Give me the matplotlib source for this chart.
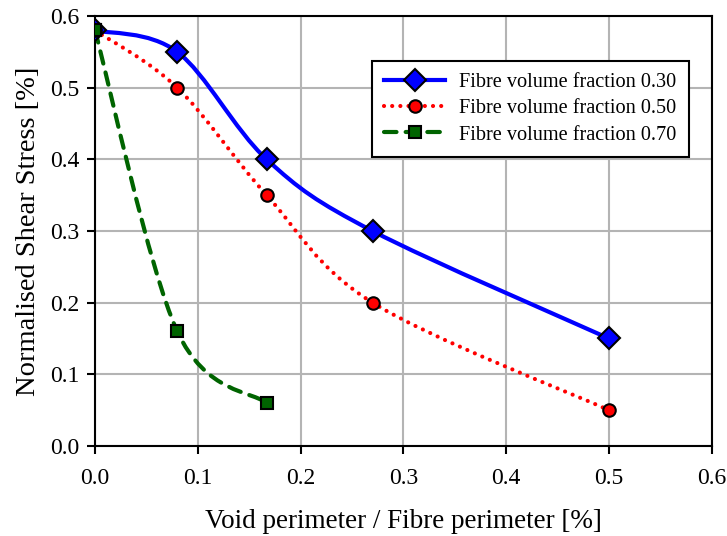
import numpy as np
import matplotlib
matplotlib.use("Agg")
import matplotlib.pyplot as plt
from matplotlib.path import Path
from matplotlib.patches import PathPatch
from matplotlib.lines import Line2D
from matplotlib.ticker import FormatStrFormatter

plt.rcParams['font.family'] = ['Liberation Serif', 'DejaVu Serif']

# void perimeter / fibre perimeter and normalised shear stress per fibre fraction
x_030 = [0.0, 0.08, 0.167, 0.27, 0.5]
y_030 = [0.58, 0.55, 0.40, 0.30, 0.15]
x_050 = [0.0, 0.08, 0.167, 0.27, 0.5]
y_050 = [0.58, 0.50, 0.35, 0.20, 0.05]
x_070 = [0.0, 0.08, 0.167]
y_070 = [0.58, 0.16, 0.06]

labels = ['Fibre volume fraction 0.30',
          'Fibre volume fraction 0.50',
          'Fibre volume fraction 0.70']


def smooth_path(xs, ys):
    # cubic bezier through the points (Catmull-Rom style tangents)
    p = np.column_stack([xs, ys])
    pts = np.vstack([p[0], p, p[-1]])
    verts = [p[0]]
    codes = [Path.MOVETO]
    for i in range(1, len(pts) - 2):
        c1 = pts[i] + (pts[i + 1] - pts[i - 1]) / 6.0
        c2 = pts[i + 1] - (pts[i + 2] - pts[i]) / 6.0
        verts += [c1, c2, pts[i + 1]]
        codes += [Path.CURVE4] * 3
    return Path(verts, codes)


fig = plt.figure(figsize=(7.27, 5.36), dpi=100)
ax = fig.add_axes([0.1307, 0.168, 0.8483, 0.802])

# colour, marker, marker size, dash pattern, cap style
series = [
    (x_030, y_030, 'blue', 'D', 11, 'solid', 'butt'),
    (x_050, y_050, 'red', 'o', 9, (0, (0.01, 1.95)), 'round'),
    (x_070, y_070, '#006400', 's', 8, (0, (3.0, 2.2)), 'round'),
]

handles = []
for (xs, ys, col, mk, ms, dash, cap), lab in zip(series, labels):
    patch = PathPatch(smooth_path(xs, ys), facecolor='none', edgecolor=col,
                      lw=3, linestyle=dash, zorder=3)
    patch.set_capstyle(cap)
    ax.add_patch(patch)
    ax.plot(xs, ys, linestyle='none', marker=mk, markersize=ms,
            markerfacecolor=col, markeredgecolor='black', markeredgewidth=1.5,
            zorder=4)
    h = Line2D([], [], color=col, lw=3, linestyle=dash, marker=mk,
               markersize=ms, markerfacecolor=col, markeredgecolor='black',
               markeredgewidth=1.5, dash_capstyle=cap)
    handles.append(h)

# shared first point, green square on top
ax.plot(x_070[:1], y_070[:1], linestyle='none', marker='s', markersize=8,
        markerfacecolor='#006400', markeredgecolor='black',
        markeredgewidth=1.5, zorder=5)

ax.set_xlim(0, 0.6)
ax.set_ylim(0, 0.6)
ax.set_xticks(np.arange(0, 0.61, 0.1))
ax.set_yticks(np.arange(0, 0.61, 0.1))
ax.xaxis.set_major_formatter(FormatStrFormatter('%.1f'))
ax.yaxis.set_major_formatter(FormatStrFormatter('%.1f'))
ax.tick_params(labelsize=17, length=6, width=1.5, direction='out', pad=5)
ax.tick_params(axis='x', pad=10)
ax.grid(True, color='#b4b4b4', lw=1.5)
ax.set_axisbelow(True)
for s in ax.spines.values():
    s.set_linewidth(1.5)
    s.set_color('black')

ax.set_xlabel('Void perimeter / Fibre perimeter [%]', fontsize=19.5, labelpad=14)
ax.set_ylabel('Normalised Shear Stress [%]', fontsize=20.5, labelpad=7)

leg = ax.legend(handles, labels, loc='upper right',
                bbox_to_anchor=(0.979, 0.92), fontsize=14.6,
                frameon=True, fancybox=False, edgecolor='black',
                framealpha=1, handlelength=3.0, borderpad=0.6,
                labelspacing=0.35, handletextpad=0.7)
leg.get_frame().set_linewidth(1.5)

fig.savefig('out.png', dpi=100)
